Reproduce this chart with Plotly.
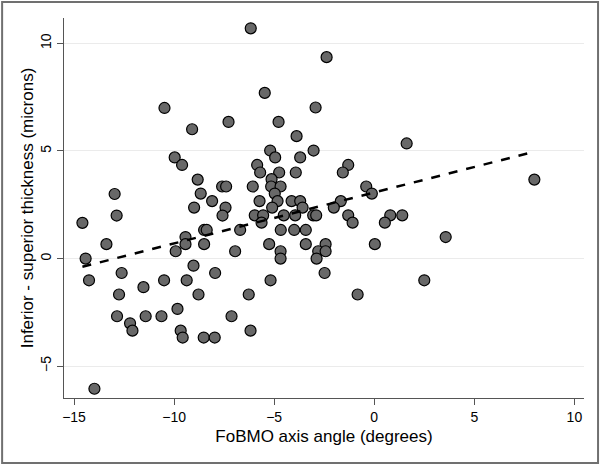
import numpy as np
import plotly.graph_objects as go

angle = [-10.48, -9.1, -7.28, -9.97, -9.6, -8.82, -12.97, -8.67, -7.6, -7.4, -8.1, -9.0, -7.43,
         -6.17, -2.38, -5.47, -2.93, -4.78, -3.88, 1.62, -5.2, -3.03, -4.95, -3.7, -5.85, -1.3,
         -5.7, -4.75, -3.92, -1.57, -5.13, -6.07, -5.15, -4.68, -0.4, -0.12, -4.97, -5.73, -4.83,
         -4.13, -3.7, -1.67, -5.1, -3.58, -2.02,
         -5.97, -5.55, -5.63, -4.52, -3.95, -3.05, -2.9, -1.3, -1.08, 0.8, 0.53, 1.4, -6.7, -4.67,
         -4.0, -3.42, -6.95, -5.25, -3.42, -2.43, -4.68, -2.8, -2.43, -4.68, -2.88, -2.48, 0.03,
         -5.18, -6.27, -0.83, -7.13, -6.18,
         -14.58, -12.87, -13.38, -14.42, -14.25, -12.62, -12.75, -11.53, -10.5, -9.37, -8.78,
         -7.95, -9.03, -9.92, -9.43, -9.43, -8.5, -8.5, -8.37, -7.58, -12.85, -12.2, -12.08,
         -11.42, -10.63, -9.83, -9.67, -9.57, -8.52, -7.97, -13.98,
         3.57, 2.5, 8.0]
thickness = [7.0, 6.01, 6.35, 4.70, 4.35, 3.67, 3.0, 3.02, 3.35, 3.35, 2.67, 2.37, 2.37,
             10.7, 9.36, 7.70, 7.02, 6.35, 5.69, 5.35, 5.02, 5.02, 4.70, 4.70, 4.35, 4.35,
             4.0, 4.0, 4.0, 4.0, 3.69, 3.35, 3.35, 3.35, 3.35, 3.02, 3.02, 2.67, 2.67,
             2.67, 2.67, 2.67, 2.37, 2.37, 2.37,
             2.01, 2.01, 1.67, 2.01, 2.01, 2.01, 2.01, 2.01, 1.67, 2.01, 1.67, 2.01, 1.33, 1.33,
             1.33, 1.33, 0.34, 0.67, 0.67, 0.67, 0.34, 0.34, 0.34, 0.0, 0.0, -0.67, 0.67,
             -1.01, -1.67, -1.67, -2.68, -3.35,
             1.66, 2.0, 0.67, 0.0, -1.01, -0.67, -1.67, -1.33, -1.01, -1.01, -1.67,
             -0.67, -0.33, 0.34, 1.0, 0.67, 0.67, 1.33, 1.33, 2.0, -2.68, -3.01, -3.35,
             -2.68, -2.68, -2.34, -3.35, -3.67, -3.67, -3.67, -6.05,
             1.0, -1.01, 3.67]
x_ticks = [-15, -10, -5, 0, 5, 10]
y_ticks = [-5, 0, 5, 10]

xa = np.array(angle)
ya = np.array(thickness)
slope, intercept = np.polyfit(xa, ya, 1)
fit_x = np.array([xa.min(), xa.max()])
fit_y = intercept + slope * fit_x

fig = go.Figure()
fig.add_trace(go.Scatter(
    x=angle, y=thickness, mode="markers",
    marker=dict(size=11, color="#686868", line=dict(color="#000000", width=1.2)),
    showlegend=False, hoverinfo="skip"))
fig.add_trace(go.Scatter(
    x=fit_x, y=fit_y, mode="lines",
    line=dict(color="#000000", width=2.5, dash="dash"),
    showlegend=False, hoverinfo="skip"))

font_family = "Liberation Sans, Arial, sans-serif"
fig.update_layout(
    width=600, height=466,
    margin=dict(l=64, r=16, t=18, b=68),
    paper_bgcolor="white", plot_bgcolor="white",
    font=dict(family=font_family, color="#000000"),
    xaxis=dict(range=[-15.5, 10.48], tickvals=x_ticks, showgrid=False, zeroline=False,
               automargin=False,
               showline=True, linecolor="#555555", linewidth=1.2,
               ticks="outside", ticklen=6, tickcolor="#555555",
               tickfont=dict(size=14),
               title=dict(text="FoBMO axis angle (degrees)", font=dict(size=17), standoff=6)),
    yaxis=dict(range=[-6.48, 11.18], tickvals=y_ticks, showgrid=True, gridcolor="#ebebeb",
               gridwidth=1, zeroline=False, automargin=False,
               showline=True, linecolor="#555555", linewidth=1.2,
               ticks="outside", ticklen=6, tickcolor="#555555",
               tickangle=-90, tickfont=dict(size=14), ticklabelstandoff=0,
               title=dict(text="Inferior - superior thickness (microns)", font=dict(size=17), standoff=0)),
)
fig.add_shape(type="rect", xref="paper", yref="paper",
              x0=-0.119, x1=1.027, y0=-0.171, y1=1.042,
              line=dict(color="#707070", width=2), fillcolor="rgba(0,0,0,0)", layer="below")
fig.write_html("out.html", config={"displayModeBar": False},
               post_script="document.body.style.margin='0';document.body.style.overflow='hidden';")
